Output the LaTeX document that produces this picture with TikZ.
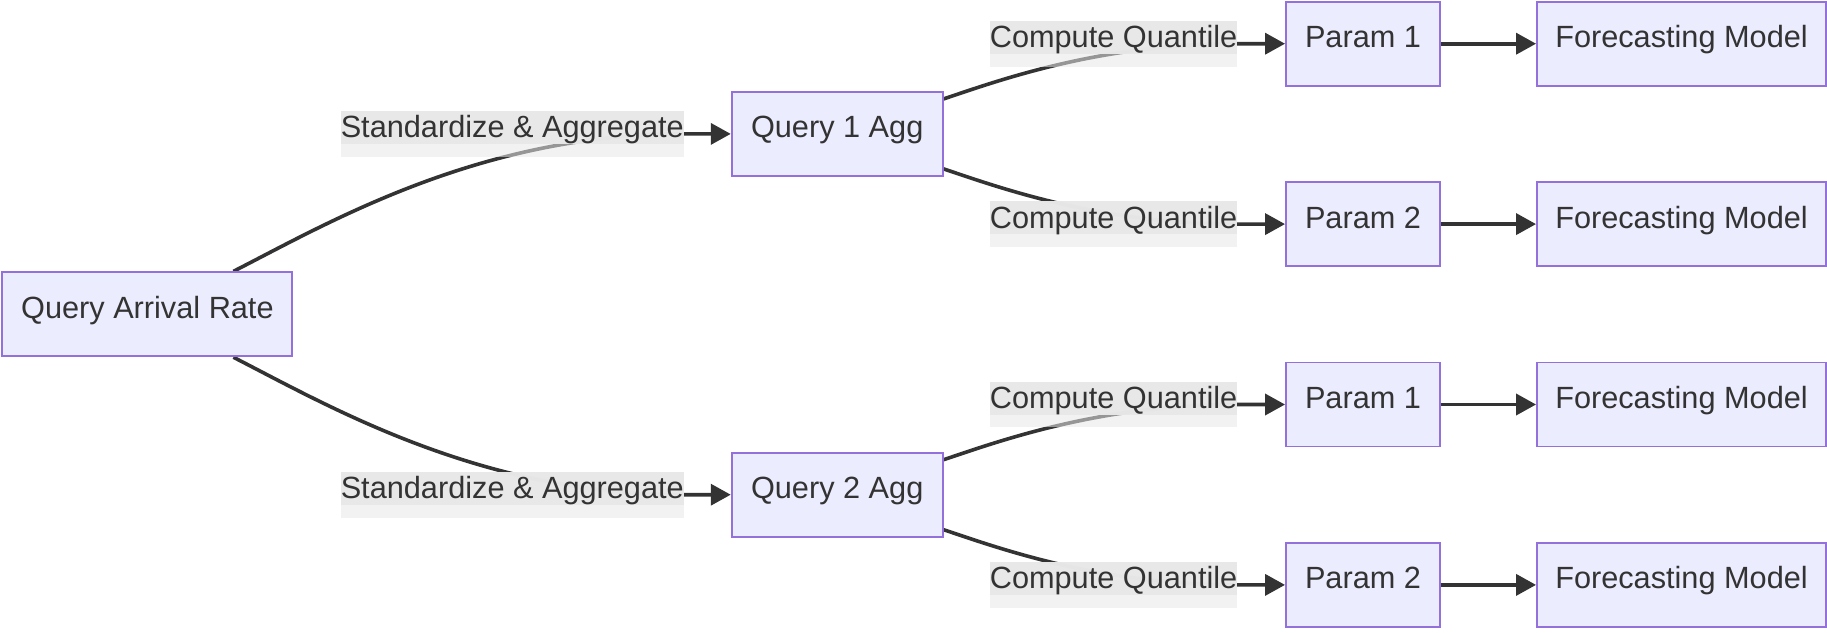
\documentclass[tikz,border=0pt]{standalone}
\usepackage{fontspec}
\setmainfont{Liberation Sans}
\usetikzlibrary{arrows.meta}
\definecolor{nodefill}{HTML}{ECECFF}
\definecolor{nodedraw}{HTML}{9370DB}
\definecolor{ink}{HTML}{333333}
\definecolor{labgray}{HTML}{E8E8E8}
\pgfdeclarelayer{background}
\pgfsetlayers{background,main}
\tikzset{
  base/.style={font=\fontsize{30.7}{36}\selectfont, text=ink, text height=22pt, text depth=14pt},
  box/.style={base, draw=nodedraw, fill=nodefill, line width=1.9pt, minimum height=84pt, inner xsep=0pt, inner ysep=0pt},
  qarbox/.style={box, minimum width=290pt},
  aggbox/.style={box, minimum width=211pt},
  parbox/.style={box, minimum width=154pt},
  fmbox/.style={box, minimum width=289pt},
  lbl/.style={base, inner sep=0pt, minimum height=45.75pt, fill=labgray, fill opacity=0.55, text opacity=1,
    path picture={\fill[labgray, fill opacity=0.97] (path picture bounding box.north west) rectangle ([yshift=-33pt]path picture bounding box.north east);}},
  edge/.style={draw=ink, line width=3.6pt},
  arr/.style={edge, -{Triangle[length=20pt,width=21pt]}}
}
\begin{document}
\begin{tikzpicture}[x=1pt,y=-1pt]
\useasboundingbox (0,0) rectangle (1827,632);
% boxes
\node[qarbox] (qar) at (147.4,314.3) {Query Arrival Rate};
\node[aggbox] (q1) at (837.2,133.9) {Query 1 Agg};
\node[aggbox] (q2) at (837.2,494.7) {Query 2 Agg};
\node[parbox] (p1a) at (1363,43.7) {Param 1};
\node[parbox] (p2a) at (1363,224.1) {Param 2};
\node[parbox] (p1b) at (1363,404.5) {Param 1};
\node[parbox] (p2b) at (1363,584.9) {Param 2};
\node[fmbox] (f1) at (1681.5,43.7) {Forecasting Model};
\node[fmbox] (f2) at (1681.5,224.1) {Forecasting Model};
\node[fmbox] (f3) at (1681.5,404.5) {Forecasting Model};
\node[fmbox] (f4) at (1681.5,584.9) {Forecasting Model};
% edge labels
\node[lbl, anchor=east] (s1) at (684,133.9) {Standardize \& Aggregate};
\node[lbl, anchor=east] (s2) at (684,494.7) {Standardize \& Aggregate};
\node[lbl, anchor=east] (c1) at (1237.5,43.7) {Compute Quantile};
\node[lbl, anchor=east] (c2) at (1237.5,224.1) {Compute Quantile};
\node[lbl, anchor=east] (c3) at (1237.5,404.5) {Compute Quantile};
\node[lbl, anchor=east] (c4) at (1237.5,584.9) {Compute Quantile};
% connectors
\begin{pgfonlayer}{background}
\draw[arr] ([xshift=86pt]qar.north) .. controls (330,222) and (480,133.9) .. (s1.east) -- (q1.west);
\draw[arr] ([xshift=86pt]qar.south) .. controls (330,406.6) and (480,494.7) .. (s2.east) -- (q2.west);
\draw[arr] ([yshift=35pt]q1.east) .. controls (1000,80) and (1100,43.7) .. (c1.east) -- (p1a.west);
\draw[arr] ([yshift=-35pt]q1.east) .. controls (1000,187.8) and (1100,224.1) .. (c2.east) -- (p2a.west);
\draw[arr] ([yshift=35pt]q2.east) .. controls (1000,440.8) and (1100,404.5) .. (c3.east) -- (p1b.west);
\draw[arr] ([yshift=-35pt]q2.east) .. controls (1000,548.6) and (1100,584.9) .. (c4.east) -- (p2b.west);
\end{pgfonlayer}
\draw[arr] (p1a.east) -- (f1.west);
\draw[arr] (p2a.east) -- (f2.west);
\draw[arr] (p1b.east) -- (f3.west);
\draw[arr] (p2b.east) -- (f4.west);
\end{tikzpicture}
\end{document}
